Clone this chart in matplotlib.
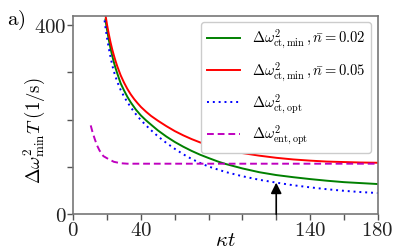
import matplotlib
matplotlib.use("Agg")
import matplotlib.pyplot as plt

plt.rcParams['mathtext.fontset'] = 'cm'
plt.rcParams['font.family'] = ['DejaVu Serif']

# ---- data ----
t_red = [19, 20, 21, 22, 23, 24, 25, 26, 28, 30, 32, 34, 36, 38, 40, 43, 46, 50, 55,
         60, 65, 70, 75, 80, 90, 100, 110, 120, 130, 140, 150, 160, 170, 180]
v_red = [422, 400, 381, 364, 349, 336, 324, 313, 294, 278.5, 265, 253.5, 243.6, 235,
         227, 217, 208, 198, 186.5, 176, 167, 159, 152, 146, 136.5, 129.5, 124,
         119.5, 116, 113.5, 111.5, 110.5, 109.5, 109]

t_green = [19, 19.5, 20, 21, 22, 23, 24, 25, 26, 28, 30, 32, 34, 37, 40, 43, 46, 50,
           55, 60, 65, 70, 75, 80, 86, 90, 100, 110, 120, 130, 140, 150, 160, 170, 180]
v_green = [412, 400, 389, 369, 351, 335.5, 321.5, 309, 298, 277, 262, 248.3, 236.6,
           221.4, 209, 198.7, 189.5, 177.5, 164.5, 153, 143, 134, 126, 119, 111,
           106.5, 97, 89, 83, 78.5, 74.5, 71, 68, 66, 64]

t_blue = [18.5, 19, 20, 21, 22, 23, 24, 26, 28, 30, 32, 36, 40, 45, 50, 55, 60, 65,
          70, 75, 80, 90, 100, 110, 120, 130, 140, 150, 160, 170, 180]
v_blue = [410, 396, 372, 351, 333, 316, 302, 280, 263, 249, 237, 216, 199, 181, 165,
          151, 138.5, 127, 117, 108.5, 101, 89.5, 80.5, 73, 67, 61.5, 57, 53, 49.7,
          47, 45]

t_mag = [10.3, 11.5, 12.8, 14, 15.5, 17.8, 20.7, 24, 28, 32, 60, 100, 140, 180]
v_mag = [188, 172, 158, 146, 135, 123, 117, 111, 108, 107, 107, 107, 107, 107]

arrow_t = 120
arrow_top = 67

labels = [r'$\Delta\omega^2_{\rm ct,min}\,,\bar{n}=0.02$',
          r'$\Delta\omega^2_{\rm ct,min}\,,\bar{n}=0.05$',
          r'$\Delta\omega^2_{\rm ct,opt}$',
          r'$\Delta\omega^2_{\rm ent,opt}$']

xticks = [0, 20, 40, 60, 80, 100, 120, 140, 160, 180]
xticklabels = ['$0$', '', '$40$', '', '', '', '', '$140$', '', '$180$']
yticks = [0, 100, 200, 300, 400]
yticklabels = ['$0$', '', '', '', '$400$']

# ---- figure ----
fig = plt.figure(figsize=(3.99, 2.52), dpi=100)
ax = fig.add_axes([0.1837, 0.1496, 0.9466 - 0.1837, 0.9377 - 0.1496])

ax.plot(t_green, v_green, color='g', lw=1.4, label=labels[0])
ax.plot(t_red, v_red, color='r', lw=1.4, label=labels[1])
ax.plot(t_blue, v_blue, color='b', lw=1.4, ls=(0, (1, 2)), label=labels[2])
ax.plot(t_mag, v_mag, color='m', lw=1.4, ls=(0, (3.5, 2)), label=labels[3])

ax.annotate('', xy=(arrow_t, arrow_top), xytext=(arrow_t, 0),
            arrowprops=dict(arrowstyle='-|>', color='k', lw=1.2,
                            mutation_scale=16, shrinkA=0, shrinkB=0))

ax.set_xlim(0, 180)
ax.set_ylim(0, 420)
ax.set_xticks(xticks)
ax.set_xticklabels(xticklabels, fontsize=15)
ax.set_yticks(yticks)
ax.set_yticklabels(yticklabels, fontsize=15)
ax.tick_params(axis='both', colors='#555555', labelcolor='#222222',
               length=4, width=1, pad=1)

for s in ax.spines.values():
    s.set_color('#777777')
    s.set_linewidth(1.2)

ax.set_xlabel(r'$\kappa t$', fontsize=15, labelpad=-7)
ax.set_ylabel(r'$\Delta\omega^2_{\rm min}T\;(1/{\rm s})$', fontsize=13.5)
ax.yaxis.set_label_coords(-0.088, 0.42)

leg = ax.legend(loc='upper right', fontsize=10.5, frameon=True, fancybox=True,
                edgecolor='#cccccc', framealpha=1.0, handlelength=2.3,
                borderaxespad=0.45, labelspacing=0.6)

fig.text(0.017, 0.965, r'$\mathrm{a)}$', fontsize=15, va='top', ha='left')

fig.savefig('out.png', dpi=100)
